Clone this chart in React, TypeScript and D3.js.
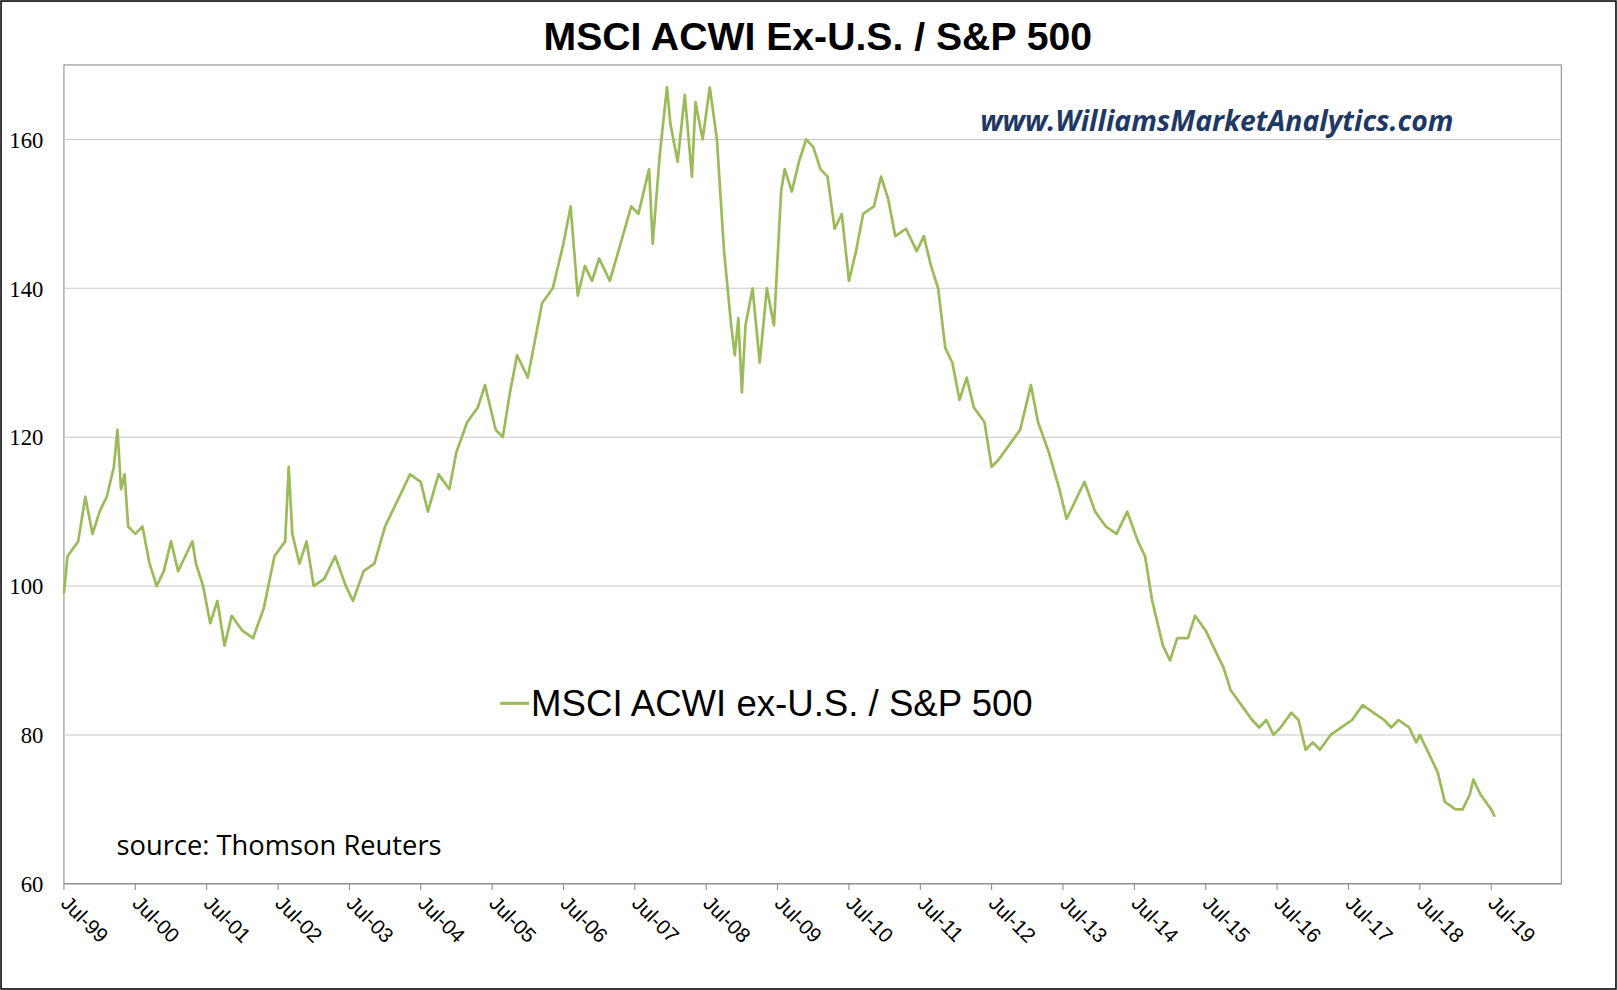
import React from "react";
import * as d3 from "d3";

const times = [1999.5,1999.55,1999.7,1999.8,1999.9,2000.0,2000.1,2000.2,2000.25,2000.3,2000.35,2000.4,2000.5,2000.6,2000.7,2000.8,2000.9,2001.0,2001.1,2001.2,2001.3,2001.35,2001.45,2001.55,2001.65,2001.75,2001.85,2002.0,2002.15,2002.3,2002.45,2002.6,2002.65,2002.7,2002.8,2002.9,2003.0,2003.15,2003.3,2003.45,2003.55,2003.7,2003.85,2004.0,2004.2,2004.35,2004.5,2004.6,2004.75,2004.9,2005.0,2005.15,2005.3,2005.4,2005.55,2005.65,2005.75,2005.85,2006.0,2006.1,2006.2,2006.35,2006.5,2006.6,2006.7,2006.8,2006.9,2007.0,2007.15,2007.3,2007.45,2007.55,2007.7,2007.75,2007.85,2007.95,2008.0,2008.1,2008.2,2008.3,2008.35,2008.45,2008.55,2008.65,2008.75,2008.85,2008.9,2008.95,2009.0,2009.05,2009.15,2009.25,2009.35,2009.45,2009.55,2009.6,2009.7,2009.8,2009.9,2010.0,2010.1,2010.2,2010.3,2010.4,2010.5,2010.6,2010.7,2010.85,2010.95,2011.05,2011.15,2011.3,2011.45,2011.55,2011.65,2011.75,2011.85,2011.95,2012.05,2012.15,2012.25,2012.4,2012.5,2012.6,2012.75,2012.9,2013.0,2013.05,2013.15,2013.3,2013.45,2013.55,2013.7,2013.8,2013.95,2014.1,2014.25,2014.4,2014.55,2014.65,2014.75,2014.9,2015.0,2015.1,2015.25,2015.35,2015.5,2015.6,2015.75,2015.85,2016.0,2016.15,2016.25,2016.35,2016.45,2016.55,2016.7,2016.8,2016.9,2017.0,2017.1,2017.25,2017.4,2017.55,2017.7,2017.85,2018.0,2018.1,2018.2,2018.35,2018.45,2018.5,2018.6,2018.75,2018.85,2019.0,2019.1,2019.2,2019.25,2019.35,2019.5,2019.55];
const values = [99,104,106,112,107,110,112,116,121,113,115,108,107,108,103,100,102,106,102,104,106,103,100,95,98,92,96,94,93,97,104,106,116,107,103,106,100,101,104,100,98,102,103,108,112,115,114,110,115,113,118,122,124,127,121,120,126,131,128,133,138,140,146,151,139,143,141,144,141,146,151,150,156,146,158,167,162,157,166,155,165,160,167,160,145,135,131,136,126,135,140,130,140,135,153,156,153,157,160,159,156,155,148,150,141,145,150,151,155,152,147,148,145,147,143,140,132,130,125,128,124,122,116,117,119,121,125,127,122,118,113,109,112,114,110,108,107,110,106,104,98,92,90,93,93,96,94,92,89,86,84,82,81,82,80,81,83,82,78,79,78,80,81,82,84,83,82,81,82,81,79,80,78,75,71,70,70,72,74,72,70,69];
const xTickLabels = ["Jul-99","Jul-00","Jul-01","Jul-02","Jul-03","Jul-04","Jul-05","Jul-06","Jul-07","Jul-08","Jul-09","Jul-10","Jul-11","Jul-12","Jul-13","Jul-14","Jul-15","Jul-16","Jul-17","Jul-18","Jul-19"];
const yTicks = [60,80,100,120,140,160];

export default function App() {
  const L = 62, R = 1514, T = 63, B = 857;
  const x = d3.scaleLinear().domain([1999.5, 2019.5]).range([L, 1446]);
  const y = d3.scaleLinear().domain([60, 170]).range([B, T]);
  const line = d3.line<number>().x((_, i) => x(times[i])).y((v) => y(v));
  return (
    <svg width={1617} height={990} viewBox="0 0 1568 960" style={{ position: "absolute", left: 0, top: 0, background: "#fff" }}>
      <rect x={1} y={1} width={1566} height={958} fill="#fff" stroke="#000" strokeWidth={1.5} />
      <text x={793} y={48} textAnchor="middle" fontFamily="Liberation Sans, Arial" fontWeight="bold" fontSize={38}>MSCI ACWI Ex-U.S. / S&amp;P 500</text>
      <rect x={L} y={T} width={R - L} height={B - T} fill="none" stroke="#888" />
      {yTicks.slice(1).map((t) => (
        <line key={t} x1={L} x2={R} y1={y(t)} y2={y(t)} stroke="#c8c8c8" />
      ))}
      {yTicks.map((t) => (
        <text key={t} x={42} y={y(t) + 8} textAnchor="end" fontFamily="Liberation Serif, Times New Roman" fontSize={22}>{t}</text>
      ))}
      <line x1={L} x2={R} y1={B} y2={B} stroke="#888" />
      {xTickLabels.map((l, i) => {
        const px = x(1999.5 + i);
        return (
          <g key={l}>
            <line x1={px} x2={px} y1={B} y2={B + 6} stroke="#888" />
            <text transform={`translate(${px - 4},${B + 20}) rotate(45)`} fontFamily="Liberation Sans, Arial" fontSize={20}>{l}</text>
          </g>
        );
      })}
      <path d={line(values) || ""} fill="none" stroke="#9bbb59" strokeWidth={2.6} strokeLinejoin="round" />
      <text x={1180} y={127} textAnchor="middle" fontFamily="Open Sans, DejaVu Sans" fontStyle="italic" fontWeight="bold" fontSize={27.5} fill="#1f3864">www.WilliamsMarketAnalytics.com</text>
      <line x1={485} x2={513} y1={682} y2={682} stroke="#9bbb59" strokeWidth={3} />
      <text x={515} y={694} fontFamily="Liberation Sans, Arial" fontSize={35.5}>MSCI ACWI ex-U.S. / S&amp;P 500</text>
      <text x={113} y={829} fontFamily="Open Sans, DejaVu Sans" fontSize={26.5}>source: Thomson Reuters</text>
    </svg>
  );
}
